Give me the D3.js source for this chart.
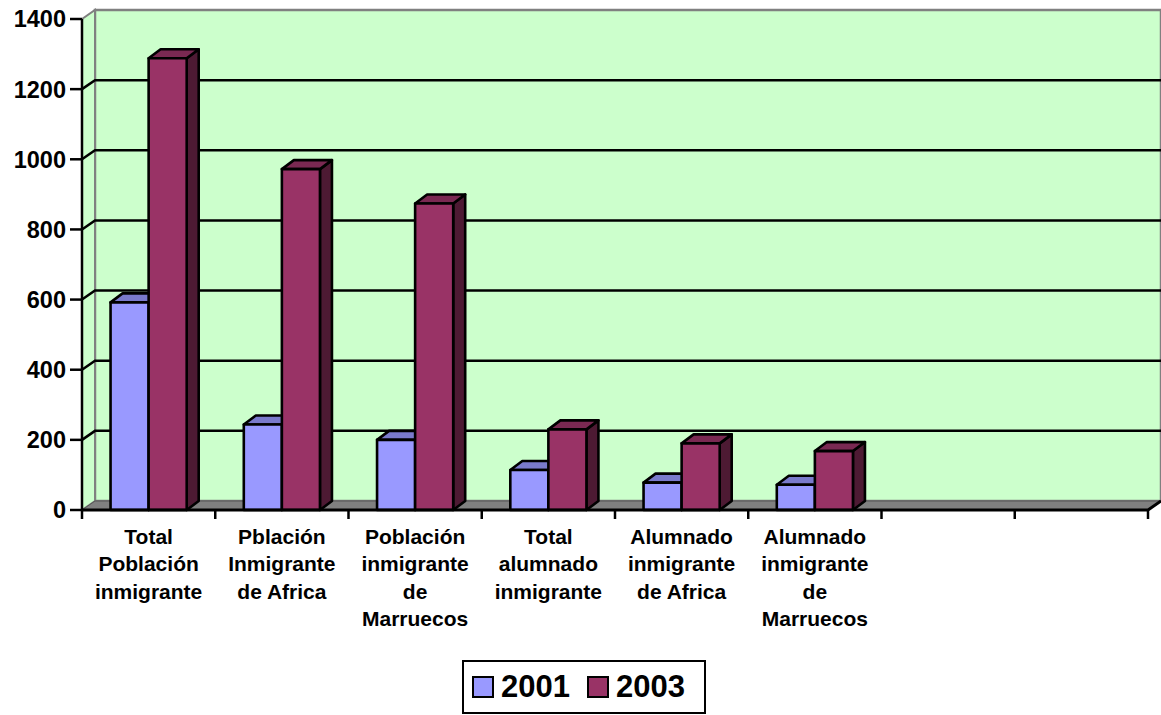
<!DOCTYPE html>
<html>
<head>
<meta charset="utf-8">
<script src="https://cdn.jsdelivr.net/npm/d3@7"></script>
<style>
  html, body { margin: 0; padding: 0; background: #ffffff; }
  svg { display: block; }
  text { font-family: "Liberation Sans", Arial, sans-serif; font-weight: bold; fill: #000; }
</style>
</head>
<body>
<svg id="chart" width="1161" height="715"></svg>
<script>
// Category labels (line breaks as wrapped under the axis); the last two slots are empty
const categories = [
  "Total\nPoblación\ninmigrante",
  "Pblación\nInmigrante\nde Africa",
  "Población\ninmigrante\nde\nMarruecos",
  "Total\nalumnado\ninmigrante",
  "Alumnado\ninmigrante\nde Africa",
  "Alumnado\ninmigrante\nde\nMarruecos",
  "",
  ""
];
const seriesNames = ["2001", "2003"];
const values2001 = [592, 244, 200, 114, 78, 72];
const values2003 = [1288, 972, 874, 230, 190, 168];
const yTicks = [0, 200, 400, 600, 800, 1000, 1200, 1400];

const colors = {
  "2001": { front: "#9999FF", top: "#7A7ACC", side: "#4D4D80" },
  "2003": { front: "#993366", top: "#7A2952", side: "#4D1A33" }
};

const svg = d3.select("#chart");

// Front plane of the 3D plot and its depth offset
const plotLeft = 82, plotRight = 1148, plotBottom = 510, plotTop = 19;
const depth = { dx: 13, dy: -9 };
const barDepth = { dx: 12, dy: -9 };

const x = d3.scaleBand().domain(d3.range(categories.length)).range([plotLeft, plotRight]);
const xs = d3.scaleBand().domain(seriesNames).range([0, x.bandwidth()])
  .paddingInner(0).paddingOuter(0.75);
const y = d3.scaleLinear().domain([0, 1400]).range([plotBottom, plotTop]);

const wallFill = "#CCFFCC", wallEdge = "#808080";
const line = d3.line();

// Back wall
svg.append("rect")
  .attr("x", plotLeft + depth.dx).attr("y", plotTop + depth.dy)
  .attr("width", plotRight - plotLeft).attr("height", plotBottom - plotTop)
  .attr("fill", wallFill).attr("stroke", wallEdge).attr("stroke-width", 2.5);

// Side wall
svg.append("path")
  .attr("d", line([[plotLeft, plotTop], [plotLeft + depth.dx, plotTop + depth.dy],
                   [plotLeft + depth.dx, plotBottom + depth.dy], [plotLeft, plotBottom]]) + "Z")
  .attr("fill", wallFill).attr("stroke", wallEdge).attr("stroke-width", 2);

// Floor
svg.append("path")
  .attr("d", line([[plotLeft, plotBottom], [plotRight, plotBottom],
                   [plotRight + depth.dx, plotBottom + depth.dy],
                   [plotLeft + depth.dx, plotBottom + depth.dy]]) + "Z")
  .attr("fill", "#808080").attr("stroke", "#555").attr("stroke-width", 1);

// Gridlines across side wall and back wall
svg.append("g").selectAll("path")
  .data(yTicks.filter(v => v > 0 && v < 1400))
  .join("path")
  .attr("d", v => line([[plotLeft, y(v)], [plotLeft + depth.dx, y(v) + depth.dy],
                        [plotRight + depth.dx, y(v) + depth.dy]]))
  .attr("fill", "none").attr("stroke", "#000").attr("stroke-width", 2.5);

// Columns
const rows = values2001.map((v, i) => ({ i, vals: [
  { s: "2001", v }, { s: "2003", v: values2003[i] }
]}));

const bars = svg.append("g").attr("stroke", "#000").attr("stroke-width", 2.6)
  .attr("stroke-linejoin", "round");
rows.forEach(r => {
  r.vals.forEach(d => {
    const x0 = x(r.i) + xs(d.s), x1 = x0 + xs.bandwidth();
    const y0 = y(0), y1 = y(d.v);
    const c = colors[d.s];
    const g = bars.append("g");
    // right side face
    g.append("path")
      .attr("d", line([[x1, y1], [x1 + barDepth.dx, y1 + barDepth.dy],
                       [x1 + barDepth.dx, y0 + barDepth.dy], [x1, y0]]) + "Z")
      .attr("fill", c.side);
    // top face
    g.append("path")
      .attr("d", line([[x0, y1], [x0 + barDepth.dx, y1 + barDepth.dy],
                       [x1 + barDepth.dx, y1 + barDepth.dy], [x1, y1]]) + "Z")
      .attr("fill", c.top);
    // front face
    g.append("rect")
      .attr("x", x0).attr("y", y1)
      .attr("width", x1 - x0).attr("height", y0 - y1)
      .attr("fill", c.front);
  });
});

// Value axis
const yAxis = svg.append("g");
yAxis.append("line")
  .attr("x1", plotLeft).attr("x2", plotLeft).attr("y1", plotTop).attr("y2", plotBottom)
  .attr("stroke", "#000").attr("stroke-width", 2.5);
yAxis.selectAll("line.tick").data(yTicks).join("line")
  .attr("class", "tick")
  .attr("x1", plotLeft - 12).attr("x2", plotLeft).attr("y1", d => y(d)).attr("y2", d => y(d))
  .attr("stroke", "#000").attr("stroke-width", 2.5);
yAxis.selectAll("text").data(yTicks).join("text")
  .attr("x", plotLeft - 16).attr("y", d => y(d)).attr("dy", "0.36em")
  .attr("text-anchor", "end").attr("font-size", 23.5)
  .text(d => d);

// Category axis
const xAxis = svg.append("g");
xAxis.append("path")
  .attr("d", line([[plotLeft, plotBottom], [plotRight, plotBottom],
                   [plotRight + depth.dx, plotBottom + depth.dy]]))
  .attr("fill", "none").attr("stroke", "#000").attr("stroke-width", 3);
const edges = d3.range(categories.length + 1).map(i => plotLeft + i * x.step());
xAxis.selectAll("line").data(edges).join("line")
  .attr("x1", d => d).attr("x2", d => d).attr("y1", plotBottom).attr("y2", plotBottom + 9)
  .attr("stroke", "#000").attr("stroke-width", 2.5);
xAxis.selectAll("text").data(categories.map((c, i) => ({ c, i }))).join("text")
  .attr("x", d => x(d.i) + x.bandwidth() / 2)
  .attr("y", 544)
  .attr("text-anchor", "middle").attr("font-size", 21)
  .each(function(d) {
    d3.select(this).selectAll("tspan").data(d.c ? d.c.split("\n") : []).join("tspan")
      .attr("x", x(d.i) + x.bandwidth() / 2)
      .attr("dy", (t, k) => k === 0 ? 0 : 27.3)
      .text(t => t);
  });

// Legend
const legend = svg.append("g");
legend.append("rect")
  .attr("x", 463).attr("y", 661).attr("width", 242).attr("height", 52)
  .attr("fill", "#fff").attr("stroke", "#000").attr("stroke-width", 2);
const legendX = { "2001": 473, "2003": 588 };
seriesNames.forEach(s => {
  legend.append("rect")
    .attr("x", legendX[s]).attr("y", 677).attr("width", 20).attr("height", 20)
    .attr("fill", colors[s].front).attr("stroke", "#000").attr("stroke-width", 2);
  legend.append("text")
    .attr("x", legendX[s] + 28).attr("y", 697)
    .attr("font-size", 31)
    .text(s);
});
</script>
</body>
</html>
